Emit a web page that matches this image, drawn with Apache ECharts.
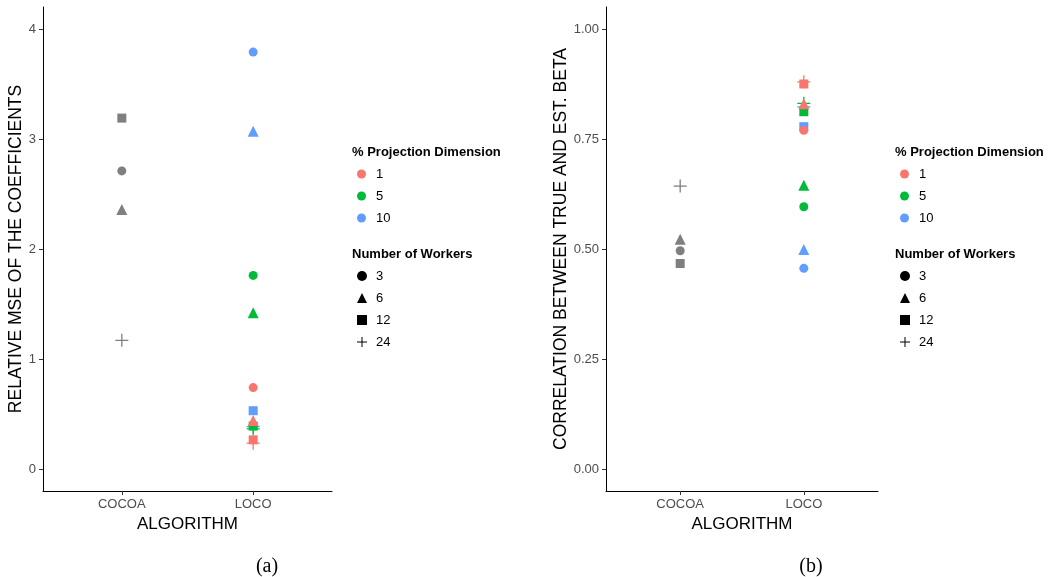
<!DOCTYPE html>
<html><head><meta charset="utf-8">
<script src="https://cdn.jsdelivr.net/npm/echarts@6/dist/echarts.min.js"></script>
<style>html,body{margin:0;padding:0;background:#fff}#c{width:1056px;height:577px}</style>
</head><body><div id="c"></div>
<script>
// ---- data ----
const categories = ['COCOA', 'LOCO'];
const projDims = ['1', '5', '10'];
const workers = ['3', '6', '12', '24'];
// values indexed by workers (3, 6, 12, 24)
const mseCocoa  = [2.71, 2.36, 3.19, 1.17];
const mseLoco1  = [0.74, 0.44, 0.265, 0.235];
const mseLoco5  = [1.76, 1.42, 0.39, 0.365];
const mseLoco10 = [3.79, 3.07, 0.53, 0.385];
const corCocoa  = [0.496, 0.522, 0.467, 0.643];
const corLoco1  = [0.770, 0.830, 0.875, 0.880];
const corLoco5  = [0.596, 0.645, 0.812, 0.831];
const corLoco10 = [0.456, 0.499, 0.778, 0.823];
const yTicksMse = [0, 1, 2, 3, 4];
const yTicksCor = [0, 0.25, 0.5, 0.75, 1];

// ---- style ----
const FONT = '"Liberation Sans", Arial, sans-serif';
const GREY = '#7F7F7F';
const COLORS = ['#F8766D', '#00BA38', '#619CFF'];
const PLUS = 'path://M4.5,0H5.5V4.5H10V5.5H5.5V10H4.5V5.5H0V4.5H4.5Z';
const SYMS = ['circle', 'triangle', 'rect', PLUS];
const SIZES = [9, 11, 9, 13];

function pts(catIdx, vals) {
  return vals.map((v, i) => ({ value: [catIdx + 1, v], symbol: SYMS[i], symbolSize: SIZES[i] }));
}
function scatter(grid, name, catIdx, vals, color) {
  return { type: 'scatter', name: name, xAxisIndex: grid, yAxisIndex: grid, silent: true,
    data: pts(catIdx, vals), itemStyle: { color: color, opacity: 1 } };
}

const series = [
  scatter(0, 'mse-cocoa', 0, mseCocoa, GREY),
  scatter(0, 'mse-loco10', 1, mseLoco10, COLORS[2]),
  scatter(0, 'mse-loco5', 1, mseLoco5, COLORS[1]),
  scatter(0, 'mse-loco1', 1, mseLoco1, COLORS[0]),
  scatter(1, 'cor-cocoa', 0, corCocoa, GREY),
  scatter(1, 'cor-loco10', 1, corLoco10, COLORS[2]),
  scatter(1, 'cor-loco5', 1, corLoco5, COLORS[1]),
  scatter(1, 'cor-loco1', 1, corLoco1, COLORS[0])
];
// legend-only series
projDims.forEach((p, i) => series.push({ type: 'scatter', name: p, data: [], symbol: 'circle', itemStyle: { color: COLORS[i], opacity: 1 } }));
workers.forEach((w, i) => series.push({ type: 'scatter', name: w, data: [], symbol: SYMS[i], itemStyle: { color: '#000', opacity: 1 } }));

function xAxis(grid) {
  return { gridIndex: grid, type: 'value', min: 0.4, max: 2.6,
    axisLine: { show: true, onZero: false, lineStyle: { color: '#000', width: 1 } },
    axisTick: { show: true, customValues: [1, 2], length: 4, lineStyle: { color: '#333' } },
    axisLabel: { customValues: [1, 2], formatter: v => categories[Math.round(v) - 1], color: '#4D4D4D', fontSize: 13, fontFamily: FONT, margin: 7 },
    splitLine: { show: false },
    name: 'ALGORITHM', nameLocation: 'middle', nameGap: 20,
    nameTextStyle: { fontSize: 17, color: '#000', fontFamily: FONT } };
}
function yAxis(grid, min, max, ticks, fmt, name, gap) {
  return { gridIndex: grid, type: 'value', min: min, max: max,
    axisLine: { show: true, onZero: false, lineStyle: { color: '#000', width: 1 } },
    axisTick: { show: true, customValues: ticks, length: 4, lineStyle: { color: '#333' } },
    axisLabel: { customValues: ticks, formatter: fmt, color: '#4D4D4D', fontSize: 13, fontFamily: FONT, margin: 7 },
    splitLine: { show: false },
    name: name, nameLocation: 'middle', nameGap: gap,
    nameTextStyle: { fontSize: 17.5, color: '#000', fontFamily: FONT } };
}

function legendBlock(left) {
  return [
    { orient: 'vertical', left: left, top: 167, padding: 0, itemWidth: 9, itemHeight: 9, itemGap: 8,
      selectedMode: false, data: projDims.map(p => ({ name: p, icon: 'circle' })),
      textStyle: { fontSize: 13, color: '#000', fontFamily: FONT, lineHeight: 14, padding: [0, 0, 0, 5] } },
    { orient: 'vertical', left: left, top: 269, padding: 0, itemWidth: 10, itemHeight: 10, itemGap: 8,
      selectedMode: false, data: workers.map((w, i) => ({ name: w, icon: SYMS[i] })),
      textStyle: { fontSize: 13, color: '#000', fontFamily: FONT, lineHeight: 14, padding: [0, 0, 0, 4] } }
  ];
}
function legendTitles(left) {
  const ts = { fontSize: 13, fontWeight: 'bold', color: '#000', fontFamily: FONT };
  return [
    { text: '% Projection Dimension', left: left, top: 146, padding: 0, textStyle: ts },
    { text: 'Number of Workers', left: left, top: 248, padding: 0, textStyle: ts }
  ];
}

const option = {
  animation: false,
  backgroundColor: '#fff',
  grid: [
    { left: 43, top: 7, width: 289, height: 484 },
    { left: 606, top: 7, width: 272, height: 484 }
  ],
  xAxis: [xAxis(0), xAxis(1)],
  yAxis: [
    yAxis(0, -0.2, 4.2, yTicksMse, v => String(v), 'RELATIVE MSE OF THE COEFFICIENTS', 18),
    yAxis(1, -0.05, 1.05, yTicksCor, v => v.toFixed(2), 'CORRELATION BETWEEN TRUE AND EST. BETA', 36)
  ],
  title: legendTitles(352).concat(legendTitles(895)),
  legend: legendBlock(357).concat(legendBlock(900)),
  graphic: [
    { type: 'text', x: 267, y: 567, style: { text: '(a)', textAlign: 'center', textVerticalAlign: 'middle', font: '20px "Liberation Serif", serif', fill: '#000' } },
    { type: 'text', x: 811, y: 567, style: { text: '(b)', textAlign: 'center', textVerticalAlign: 'middle', font: '20px "Liberation Serif", serif', fill: '#000' } }
  ],
  series: series
};
const chart = echarts.init(document.getElementById('c'), null, { renderer: 'canvas' });
chart.setOption(option);
</script>
</body></html>
